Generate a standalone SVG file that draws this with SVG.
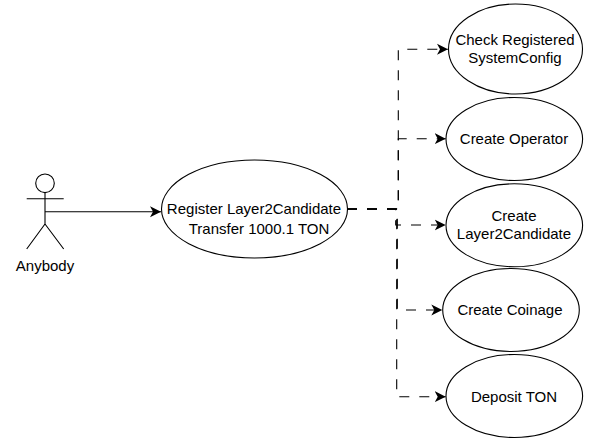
<svg xmlns="http://www.w3.org/2000/svg" width="600" height="444" viewBox="0 0 600 444">
<style>
text{font-family:"Liberation Sans",Arial,sans-serif;font-size:15px;fill:#000;text-anchor:middle}
.n{fill:#fff;stroke:#000;stroke-width:1.1}
.s{fill:none;stroke:#000;stroke-width:1.1}
.c{fill:none;stroke:#000;stroke-width:1.1}
.d{stroke-dasharray:10 10}
</style>
<defs>
<marker id="a" markerUnits="userSpaceOnUse" markerWidth="14" markerHeight="12" refX="11" refY="6" orient="auto"><path d="M0 0.5L11 6L0 11.5L3 6Z" fill="#000"/></marker>
</defs>
<rect width="600" height="444" fill="#fff"/>
<g id="connectors">
<path class="c" d="M45 211.700H161" marker-end="url(#a)"/>
<path class="c d" d="M347 209H398.300V49.300H448" marker-end="url(#a)"/>
<path class="c d" d="M347 209H398.300V138.700H445.700" marker-end="url(#a)"/>
<path class="c d" d="M347 209H395.700V225H445.700" marker-end="url(#a)"/>
<path class="c d" d="M347 209H397.300V310H442.300" marker-end="url(#a)"/>
<path class="c d" d="M347 209H396.700V396.700H445.700" marker-end="url(#a)"/>
</g>
<g id="actor">
<circle class="s" cx="45" cy="183.300" r="9.300"/>
<path class="s" d="M45 192.600V224M26.700 198.700H63.700M45 224L26.700 249M45 224L63.700 249"/>
<text x="45" y="271">Anybody</text>
</g>
<g id="register"><ellipse class="n" cx="254.500" cy="209" rx="93" ry="49"/><text x="254" y="214">Register Layer2Candidate</text><text x="259" y="234">Transfer 1000.1 TON</text></g>
<g id="check"><ellipse class="n" cx="515.500" cy="49" rx="67" ry="45"/><text x="515" y="44.500">Check Registered</text><text x="515" y="63">SystemConfig</text></g>
<g id="operator"><ellipse class="n" cx="514.300" cy="139" rx="68.300" ry="41.500"/><text x="514" y="144">Create Operator</text></g>
<g id="l2c"><ellipse class="n" cx="514.300" cy="225.300" rx="68.300" ry="41.500"/><text x="514" y="221">Create</text><text x="514" y="239">Layer2Candidate</text></g>
<g id="coinage"><ellipse class="n" cx="511" cy="310" rx="68.300" ry="41.500"/><text x="510" y="315">Create Coinage</text></g>
<g id="deposit"><ellipse class="n" cx="514.300" cy="396" rx="68.300" ry="41.500"/><text x="514" y="402">Deposit TON</text></g>
</svg>
